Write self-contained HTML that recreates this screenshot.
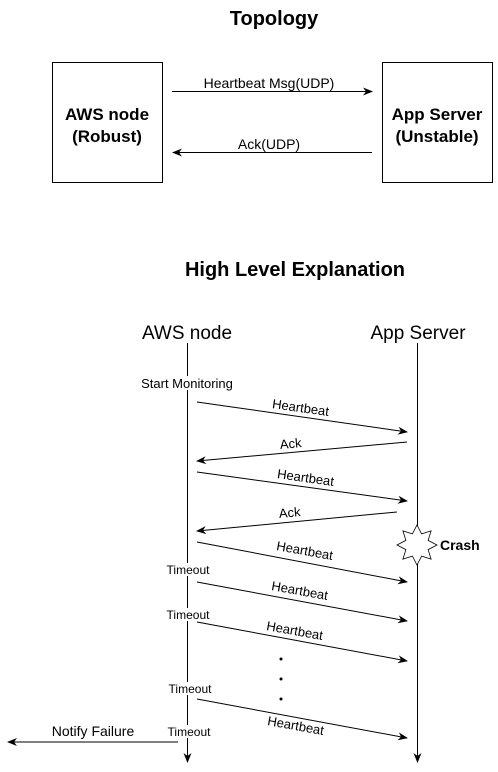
<!DOCTYPE html>
<html><head><meta charset="utf-8"><style>
html,body{margin:0;padding:0;background:#fff;}
svg{display:block;font-family:"Liberation Sans",Arial,sans-serif;}
</style></head><body>
<svg width="498" height="772" viewBox="0 0 498 772" xmlns="http://www.w3.org/2000/svg">
<defs>
<marker id="a" markerWidth="10" markerHeight="8" refX="9" refY="4" orient="auto" markerUnits="userSpaceOnUse">
<path d="M0,0 L10,4 L0,8 L3,4 Z" fill="#000"/>
</marker>
</defs>
<text x="274" y="25" font-size="20" font-weight="bold" text-anchor="middle">Topology</text>
<rect x="52.5" y="62.5" width="110" height="120" fill="#fff" stroke="#000"/>
<rect x="382.5" y="62.5" width="110" height="120" fill="#fff" stroke="#000"/>
<text x="107" y="120" font-size="17" font-weight="bold" text-anchor="middle">AWS node</text>
<text x="107" y="142" font-size="17" font-weight="bold" text-anchor="middle">(Robust)</text>
<text x="437" y="120" font-size="17" font-weight="bold" text-anchor="middle">App Server</text>
<text x="437" y="142" font-size="17" font-weight="bold" text-anchor="middle">(Unstable)</text>
<line x1="172" y1="91.5" x2="372" y2="91.5" stroke="#000" marker-end="url(#a)"/>
<text x="269" y="88" font-size="14" text-anchor="middle">Heartbeat Msg(UDP)</text>
<line x1="372" y1="152.5" x2="173" y2="152.5" stroke="#000" marker-end="url(#a)"/>
<text x="269" y="149" font-size="14" text-anchor="middle">Ack(UDP)</text>

<text x="295" y="276" font-size="20" font-weight="bold" text-anchor="middle">High Level Explanation</text>
<text x="187" y="339" font-size="19" text-anchor="middle">AWS node</text>
<text x="418" y="339" font-size="19" text-anchor="middle">App Server</text>

<line x1="187.5" y1="343" x2="187.5" y2="762" stroke="#000" marker-end="url(#a)"/>
<line x1="417.5" y1="343" x2="417.5" y2="762" stroke="#000" marker-end="url(#a)"/>

<rect x="133" y="376" width="108" height="14" fill="#fff"/>
<text x="187" y="388" font-size="13" text-anchor="middle">Start Monitoring</text>

<g stroke="#000" fill="none">
<line x1="197" y1="402" x2="407" y2="432" marker-end="url(#a)"/>
<line x1="407" y1="442" x2="197" y2="461" marker-end="url(#a)"/>
<line x1="197" y1="472" x2="407" y2="501" marker-end="url(#a)"/>
<line x1="397" y1="512" x2="197" y2="531" marker-end="url(#a)"/>
<line x1="197" y1="542" x2="407" y2="582" marker-end="url(#a)"/>
<line x1="197" y1="582" x2="407" y2="621" marker-end="url(#a)"/>
<line x1="197" y1="622" x2="407" y2="661" marker-end="url(#a)"/>
<line x1="197" y1="699" x2="407" y2="738" marker-end="url(#a)"/>
<line x1="178" y1="742" x2="8" y2="742" marker-end="url(#a)"/>
</g>
<g font-size="13" text-anchor="middle">
<text transform="translate(300,412) rotate(8)">Heartbeat</text>
<text transform="translate(291,448) rotate(-5)">Ack</text>
<text transform="translate(305,482) rotate(8)">Heartbeat</text>
<text transform="translate(290,517) rotate(-5)">Ack</text>
<text transform="translate(304,555) rotate(10)">Heartbeat</text>
<text transform="translate(299,595) rotate(10)">Heartbeat</text>
<text transform="translate(294,635) rotate(10)">Heartbeat</text>
<text transform="translate(295,730) rotate(10)">Heartbeat</text>
</g>
<circle cx="281" cy="659" r="1.5"/>
<circle cx="281" cy="679" r="1.5"/>
<circle cx="281" cy="699" r="1.5"/>

<g font-size="12" text-anchor="middle">
<rect x="161" y="563" width="54" height="13" fill="#fff"/>
<text x="188" y="574">Timeout</text>
<rect x="161" y="608" width="54" height="13" fill="#fff"/>
<text x="188" y="619">Timeout</text>
<rect x="163" y="682" width="54" height="13" fill="#fff"/>
<text x="190" y="693">Timeout</text>
<rect x="162" y="725" width="54" height="13" fill="#fff"/>
<text x="189" y="736">Timeout</text>
</g>
<text x="93" y="736" font-size="14" text-anchor="middle">Notify Failure</text>

<polygon fill="#fff" stroke="#000" stroke-width="0.8" points="417,525 421.6,533.9 431.1,530.9 428.1,540.4 437,545 428.1,549.6 431.1,559.1 421.6,556.1 417,565 412.4,556.1 402.9,559.1 405.9,549.6 397,545 405.9,540.4 402.9,530.9 412.4,533.9"/>
<text x="440" y="550" font-size="14" font-weight="bold">Crash</text>
</svg>
</body></html>
